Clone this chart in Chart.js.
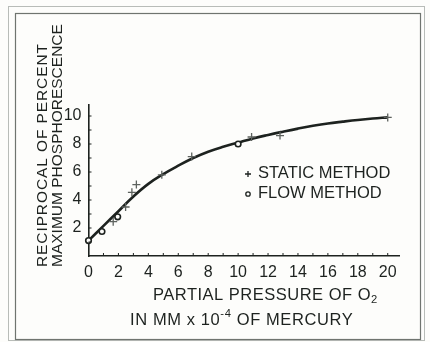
<!DOCTYPE html>
<html>
<head>
<meta charset="utf-8">
<script src="https://cdn.jsdelivr.net/npm/chart.js@4/dist/chart.umd.min.js"></script>
<style>
  html, body { margin: 0; padding: 0; background: #fdfdfb; }
  #wrap { width: 430px; height: 342px; position: relative; }
</style>
</head>
<body>
<div id="wrap"><canvas id="c" width="430" height="342"></canvas></div>
<script>
// Fitted curve: reciprocal of percent maximum phosphorescence vs O2 pressure
const curveX = [0, 1, 2, 3, 4, 5, 6, 7, 8, 9, 10, 11, 12, 13, 14, 15, 16, 17, 18, 19, 20];
const curveY = [1.1, 2.15, 3.2, 4.25, 5.15, 5.85, 6.45, 7.0, 7.45, 7.8, 8.1, 8.4, 8.65, 8.88, 9.1, 9.3, 9.47, 9.6, 9.72, 9.82, 9.9];

// Static method measurements (+)
const staticX = [1.65, 2.48, 2.9, 3.2, 4.9, 6.9, 10.9, 12.8, 20];
const staticY = [2.45, 3.5, 4.55, 5.1, 5.8, 7.1, 8.5, 8.6, 9.9];

// Flow method measurements (o)
const flowX = [0, 0.9, 1.95, 10];
const flowY = [1.1, 1.75, 2.8, 8.0];

// Axis settings
const xTickLabels = [0, 2, 4, 6, 8, 10, 12, 14, 16, 18, 20];
const yTickLabels = [2, 4, 6, 8, 10];
const xMax = 20.8;
const yMax = 10.8;

const legendItems = ['STATIC METHOD', 'FLOW METHOD'];
const yTitleLines = ['RECIPROCAL OF PERCENT', 'MAXIMUM PHOSPHORESCENCE'];

const INK = '#1d221f';
const FONT = '"Liberation Sans", Arial, sans-serif';

const toXY = (xs, ys) => xs.map((x, i) => ({ x: x, y: ys[i] }));

// Draws text made of pieces; each piece may be raised (sup) or lowered (sub)
function drawRich(ctx, x, y, parts, size) {
  let cx = x;
  parts.forEach(p => {
    const s = p.sub || p.sup ? size * 0.68 : size;
    ctx.font = s + 'px ' + FONT;
    const dy = p.sub ? size * 0.32 : (p.sup ? -size * 0.38 : 0);
    ctx.fillText(p.t, cx, y + dy);
    cx += ctx.measureText(p.t).width;
  });
}

const decorations = {
  id: 'decorations',
  beforeDraw(chart) {
    const ctx = chart.ctx;
    ctx.save();
    // double frame around the figure
    ctx.strokeStyle = '#b8bcb8';
    ctx.lineWidth = 1;
    ctx.strokeRect(8.5, 6.5, 416, 334);
    ctx.strokeStyle = '#6f746f';
    ctx.lineWidth = 1.2;
    ctx.strokeRect(15.5, 13.5, 405, 326);
    ctx.restore();
  },
  afterDraw(chart) {
    const ctx = chart.ctx;
    const xs = chart.scales.x, ys = chart.scales.y;
    const x0 = xs.getPixelForValue(0), y0 = ys.getPixelForValue(0);
    ctx.save();
    // minor inward ticks every unit
    ctx.strokeStyle = INK;
    ctx.lineWidth = 1;
    ctx.beginPath();
    for (let v = 1; v <= 20; v++) {
      const px = xs.getPixelForValue(v);
      ctx.moveTo(px, y0);
      ctx.lineTo(px, y0 - 3);
    }
    for (let v = 1; v <= 10; v++) {
      const py = ys.getPixelForValue(v);
      ctx.moveTo(x0, py);
      ctx.lineTo(x0 + 3, py);
    }
    ctx.stroke();

    ctx.fillStyle = INK;
    ctx.textBaseline = 'middle';
    ctx.textAlign = 'left';

    // y-axis title, two rotated lines
    ctx.save();
    ctx.translate(43, 267);
    ctx.rotate(-Math.PI / 2);
    ctx.font = '15.5px ' + FONT;
    ctx.letterSpacing = '0.9px';
    ctx.fillText(yTitleLines[0], 0, 0);
    ctx.letterSpacing = '0px';
    ctx.fillText(yTitleLines[1], 0, 15);
    ctx.restore();

    // x-axis title, two lines
    ctx.letterSpacing = '0.5px';
    drawRich(ctx, 153, 295, [{ t: 'PARTIAL PRESSURE OF O' }, { t: '2', sub: true }], 16.5);
    ctx.letterSpacing = '0.6px';
    drawRich(ctx, 130, 320, [{ t: 'IN MM x 10' }, { t: '-4', sup: true }, { t: ' OF MERCURY' }], 16.5);
    ctx.letterSpacing = '0px';

    // legend
    ctx.font = '16.5px ' + FONT;
    ctx.fillText(legendItems[0], 258, 173);
    ctx.fillText(legendItems[1], 258, 193);
    ctx.lineWidth = 1.3;
    ctx.strokeStyle = INK;
    ctx.beginPath();
    ctx.moveTo(245, 174); ctx.lineTo(251, 174);
    ctx.moveTo(248, 171); ctx.lineTo(248, 177);
    ctx.stroke();
    ctx.beginPath();
    ctx.arc(248, 194, 2.2, 0, Math.PI * 2);
    ctx.stroke();
    ctx.restore();
  }
};

new Chart(document.getElementById('c'), {
  type: 'scatter',
  data: {
    datasets: [
      {
        type: 'line',
        label: 'fit',
        data: toXY(curveX, curveY),
        borderColor: INK,
        borderWidth: 2.6,
        pointRadius: 0,
        tension: 0.4,
        fill: false,
        clip: false,
        order: 2
      },
      {
        label: legendItems[0],
        data: toXY(staticX, staticY),
        pointStyle: 'cross',
        pointRadius: 4,
        borderColor: '#5d625e',
        borderWidth: 1.3,
        clip: false,
        order: 1
      },
      {
        label: legendItems[1],
        data: toXY(flowX, flowY),
        pointStyle: 'circle',
        pointRadius: 2.8,
        backgroundColor: '#fdfdfb',
        borderColor: INK,
        borderWidth: 1.6,
        clip: false,
        order: 0
      }
    ]
  },
  options: {
    responsive: false,
    animation: false,
    events: [],
    layout: { padding: { left: 48.5, right: 30.3, top: 104.8, bottom: 56 } },
    plugins: { legend: { display: false }, tooltip: { enabled: false } },
    scales: {
      x: {
        type: 'linear',
        min: 0,
        max: xMax,
        afterFit(scale) { scale.height = 30; },
        afterBuildTicks(scale) { scale.ticks = xTickLabels.map(v => ({ value: v })); },
        grid: { display: false, drawTicks: false },
        border: { display: true, color: INK, width: 1.6 },
        ticks: {
          padding: 7,
          color: INK,
          maxRotation: 0,
          autoSkip: false,
          font: { family: FONT, size: 16 }
        }
      },
      y: {
        type: 'linear',
        min: 0,
        max: yMax,
        afterFit(scale) { scale.width = 40; },
        afterBuildTicks(scale) { scale.ticks = yTickLabels.map(v => ({ value: v })); },
        grid: { display: false, drawTicks: false },
        border: { display: true, color: INK, width: 1.6 },
        ticks: {
          padding: 7,
          color: INK,
          autoSkip: false,
          font: { family: FONT, size: 16 }
        }
      }
    }
  },
  plugins: [decorations]
});
</script>
</body>
</html>
